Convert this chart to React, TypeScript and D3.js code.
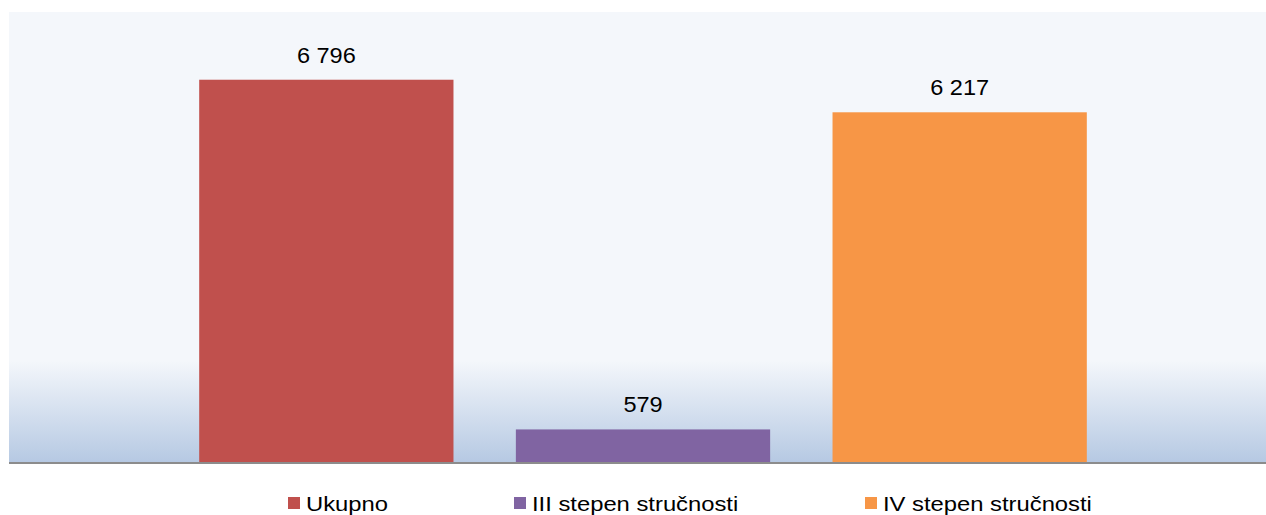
import React, { useEffect, useRef } from 'react';
import * as d3 from 'd3';

const series = ['Ukupno', 'III stepen stručnosti', 'IV stepen stručnosti'];
const values = [6796, 579, 6217];
const colors = ['#c0504d', '#8064a2', '#f79646'];
const legendX = [288, 514, 865];

const W = 1266;
const H = 515;
const FONT = 'Liberation Sans, Arial, sans-serif';

const App: React.FC = () => {
  const svgRef = useRef<SVGSVGElement>(null);

  useEffect(() => {
    if (!svgRef.current) return;
    const svg = d3.select(svgRef.current);
    svg.selectAll('*').remove();

    const plot = { left: 9, top: 12, right: 1266, bottom: 462 };

    const x = d3.scaleBand<string>()
      .domain(series)
      .range([168, 1118])
      .paddingInner(0.197)
      .paddingOuter(0.0985);
    const y = d3.scaleLinear().domain([0, 8000]).range([plot.bottom, plot.top]);

    const defs = svg.append('defs');
    const grad = defs.append('linearGradient')
      .attr('id', 'bg').attr('x1', 0).attr('y1', 0).attr('x2', 0).attr('y2', 1);
    grad.append('stop').attr('offset', '0').attr('stop-color', '#f4f7fb');
    grad.append('stop').attr('offset', '0.775').attr('stop-color', '#f4f7fb');
    grad.append('stop').attr('offset', '1').attr('stop-color', '#b6c9e3');

    // plot background
    svg.append('rect')
      .attr('x', plot.left).attr('y', plot.top)
      .attr('width', plot.right - plot.left).attr('height', plot.bottom - plot.top)
      .attr('fill', 'url(#bg)');

    // bars + value labels
    series.forEach((s, i) => {
      svg.append('rect')
        .attr('x', x(s)!).attr('y', y(values[i]))
        .attr('width', x.bandwidth()).attr('height', y(0) - y(values[i]))
        .attr('fill', colors[i]);
      const cx = x(s)! + x.bandwidth() / 2;
      svg.append('text')
        .attr('transform', `translate(${cx},${y(values[i]) - 17}) scale(1.07,1)`)
        .attr('text-anchor', 'middle')
        .attr('font-family', FONT)
        .attr('font-size', 22)
        .attr('fill', '#000')
        .text(d3.format(',')(values[i]).replace(/,/g, ' '));
    });

    // axis line
    svg.append('line')
      .attr('x1', plot.left).attr('x2', plot.right)
      .attr('y1', plot.bottom + 1).attr('y2', plot.bottom + 1)
      .attr('stroke', '#8c8c8c').attr('stroke-width', 2);

    // legend
    series.forEach((s, i) => {
      const g = svg.append('g').attr('transform', `translate(${legendX[i]},0)`);
      g.append('rect').attr('x', 0).attr('y', 497).attr('width', 12).attr('height', 12).attr('fill', colors[i]);
      g.append('text')
        .attr('transform', 'translate(18,511) scale(1.19,1)')
        .attr('font-family', FONT)
        .attr('font-size', 20)
        .attr('fill', '#000')
        .text(s);
    });
  }, []);

  return (
    <div style={{ position: 'fixed', left: 0, top: 0, width: W, height: H, background: '#fff' }}>
      <svg ref={svgRef} width={W} height={H} style={{ display: 'block' }} />
    </div>
  );
};

export default App;
